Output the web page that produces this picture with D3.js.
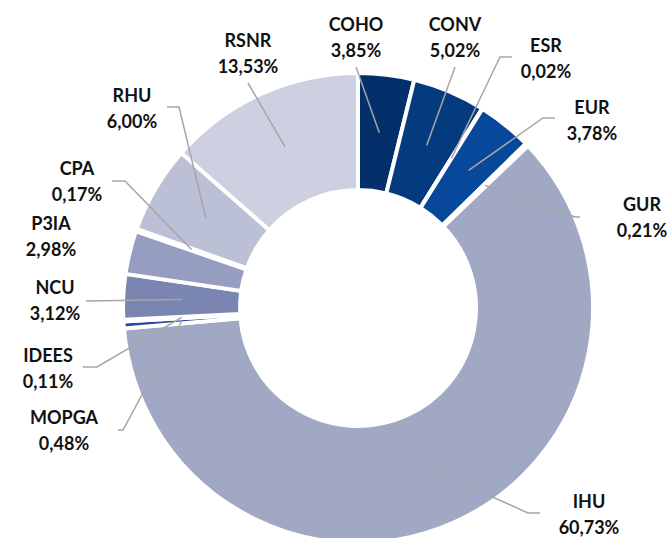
<!DOCTYPE html>
<html>
<head>
<meta charset="utf-8">
<script src="https://cdn.jsdelivr.net/npm/d3@7"></script>
<style>
  html, body { margin: 0; padding: 0; background: #fff; }
  svg { display: block; }
  text { font-family: Lato, "Open Sans", sans-serif; font-weight: 700; }
</style>
</head>
<body>
<svg id="chart" width="671" height="538"></svg>
<script>
// ---- data ----
const categories = ["COHO", "CONV", "ESR", "EUR", "GUR", "IHU", "MOPGA", "IDEES", "NCU", "P3IA", "CPA", "RHU", "RSNR"];
const values     = [3.85, 5.02, 0.02, 3.78, 0.21, 60.73, 0.48, 0.11, 3.12, 2.98, 0.17, 6.00, 13.53];
const valueLabels = ["3,85%", "5,02%", "0,02%", "3,78%", "0,21%", "60,73%", "0,48%", "0,11%", "3,12%", "2,98%", "0,17%", "6,00%", "13,53%"];
const colors     = ["#032F6B", "#043B7E", "#0A4490", "#07489A", "#1C55A8", "#A1A8C4", "#2B4A9B", "#5566A0", "#7A86B1", "#959DC0", "#A9AFCB", "#BBC0D6", "#CDD0E1"];

// ---- label layout (text centre x, first baseline y, leader start, optional elbow) ----
const labelLayout = [
  { x: 356, y: 31,  start: [356, 67] },
  { x: 455, y: 31,  start: [455, 67] },
  { x: 546, y: 52,  start: [512, 57], elbow: [500, 57] },
  { x: 592, y: 114, start: [555, 118], elbow: [543, 118] },
  { x: 642, y: 211, start: [580, 217], elbow: [575, 217] },
  { x: 589, y: 508, start: [540, 513], elbow: [528, 513] },
  { x: 64,  y: 424, start: [118, 430], elbow: [123, 430] },
  { x: 48,  y: 362, start: [83, 367],  elbow: [97, 367] },
  { x: 55,  y: 294, start: [86, 301] },
  { x: 51,  y: 230, start: null },
  { x: 77,  y: 175, start: [112, 181], elbow: [125, 181] },
  { x: 132, y: 102, start: [167, 107], elbow: [179, 107] },
  { x: 248, y: 47,  start: [248, 83] }
];

const cx = 358, cy = 308;
const outerR = 235, innerR = 118;

const svg = d3.select("#chart");
const g = svg.append("g").attr("transform", `translate(${cx},${cy})`);

const data = categories.map((c, i) => ({ name: c, value: values[i], label: valueLabels[i], color: colors[i], layout: labelLayout[i] }));

const pie = d3.pie().value(d => d.value).sort(null).startAngle(0).endAngle(2 * Math.PI);
const arc = d3.arc().innerRadius(innerR).outerRadius(outerR);
const centroidArc = d3.arc().innerRadius((120 + 233) / 2).outerRadius((120 + 233) / 2);

const arcs = pie(data);

g.selectAll("path.slice")
  .data(arcs)
  .join("path")
  .attr("class", "slice")
  .attr("d", arc)
  .attr("fill", d => d.data.color)
  .attr("stroke", "#fff")
  .attr("stroke-width", 4)
  .attr("stroke-linejoin", "miter");

// leader lines
const line = d3.line();
svg.selectAll("path.leader")
  .data(arcs.filter(d => d.data.layout.start))
  .join("path")
  .attr("class", "leader")
  .attr("d", d => {
    const c = centroidArc.centroid(d);
    const pts = [d.data.layout.start];
    if (d.data.layout.elbow) pts.push(d.data.layout.elbow);
    pts.push([cx + c[0], cy + c[1]]);
    return line(pts);
  })
  .attr("fill", "none")
  .attr("stroke", "#A6A6A6")
  .attr("stroke-width", 1.5);

// labels
const labels = svg.selectAll("text.lbl")
  .data(arcs)
  .join("text")
  .attr("class", "lbl")
  .attr("text-anchor", "middle")
  .attr("font-size", 18)
  .attr("fill", "#111");

labels.append("tspan")
  .attr("x", d => d.data.layout.x)
  .attr("y", d => d.data.layout.y)
  .text(d => d.data.name);
labels.append("tspan")
  .attr("x", d => d.data.layout.x)
  .attr("y", d => d.data.layout.y + 26)
  .text(d => d.data.label);
</script>
</body>
</html>
